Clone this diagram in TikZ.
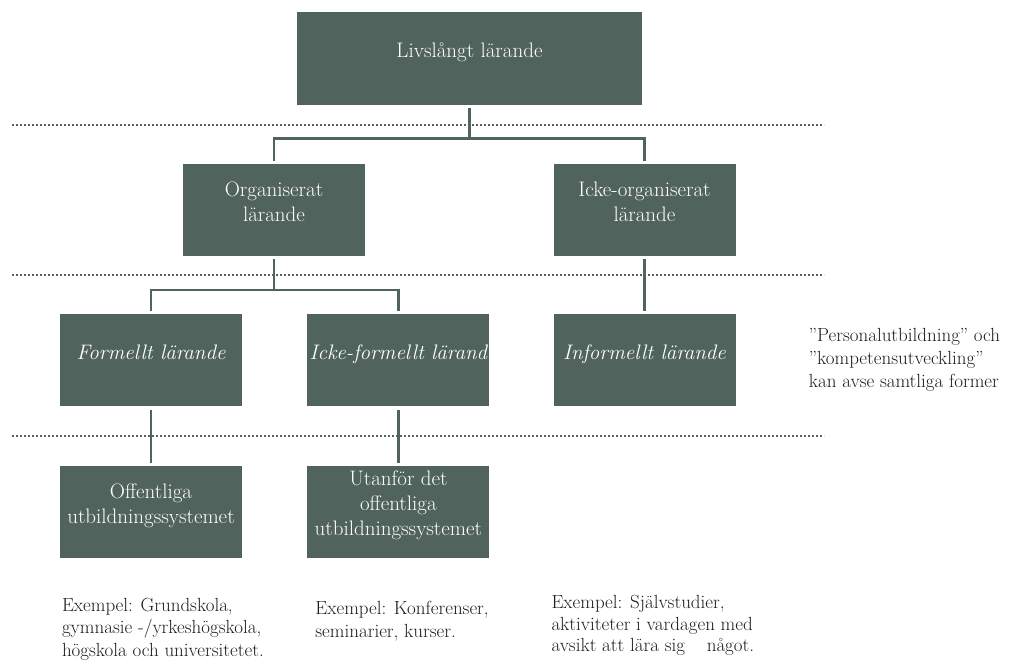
\documentclass[tikz,border=0pt]{standalone}
\usepackage{xcolor}
\usepackage{tikz}
\usetikzlibrary{positioning}

\definecolor{boxgreen}{RGB}{80,99,92}
\definecolor{inkgray}{RGB}{28,28,28}
\newcommand{\lift}{\rule[-17pt]{0pt}{0pt}}   % deeper last line -> text sits a bit high

\begin{document}
\begin{tikzpicture}[
  x=1pt, y=1pt,                              % one unit = one pixel of the sketch
  box/.style   = {rectangle,
                  fill=boxgreen,
                  text=white,
                  align=center,
                  minimum width=182pt,
                  minimum height=92pt,
                  inner sep=0pt,
                  font=\fontsize{21}{25}\selectfont},
  ital/.style  = {font=\fontsize{21}{25}\selectfont\itshape},
  note/.style  = {align=left,
                  inner sep=0pt,
                  text=inkgray,
                  font=\fontsize{19}{23}\selectfont},
  link/.style  = {draw=boxgreen, line width=2.5pt, shorten <=3pt, shorten >=3pt},
  level/.style = {draw=boxgreen, line width=2pt, dash pattern=on 2pt off 2pt}
]
\useasboundingbox (0,0) rectangle (1026,-661);

% separators between the levels
\draw[level] (12,-125) -- (824,-125);
\draw[level] (12,-275) -- (824,-275);
\draw[level] (12,-436) -- (824,-436);

\node[box, minimum width=345pt] (life) at (469.5,-58.5) {Livslångt lärande\lift};

\node[box, below=59pt of life, xshift=-195.5pt] (org)   {Organiserat\\lärande\lift};
\node[box, below=59pt of life, xshift=175pt]    (unorg) {Icke-organiserat\\lärande\lift};

\node[box, ital, below=58pt of org, xshift=-123pt] (formal)    {Formellt lärande\lift};
\node[box, ital, right=65pt of formal]             (nonformal) {Icke-formellt lärand\lift};
\node[box, ital, below=58pt of unorg]              (informal)  {Informellt lärande\lift};

\node[box, below=59pt of formal]    (public)  {Offentliga\\utbildningssystemet\lift};
\node[box, below=59pt of nonformal] (private) {Utanför det\\offentliga\\utbildningssystemet\lift};

\node[note, right=73pt of informal] (forms)
  {”Personalutbildning” och\\”kompetensutveckling”\\kan avse samtliga former};

\node[note, font=\fontsize{19}{22.5}\selectfont,
      below=40pt of public.south west, anchor=north west, xshift=2pt] (exA)
  {Exempel: Grundskola,\\gymnasie -/yrkeshögskola,\\högskola och universitetet.};
\node[note, below=43pt of private.south west, anchor=north west, xshift=8pt] (exB)
  {Exempel: Konferenser,\\seminarier, kurser.};
\node[note, font=\fontsize{19}{21.5}\selectfont,
      below=189pt of informal.south west, anchor=north west, xshift=-2pt] (exC)
  {Exempel: Självstudier,\\aktiviteter i vardagen med\\avsikt att lära sig\hspace{16pt} något.};

\draw[link] (life.south) -- ++(0,-34) -| (org.north);
\draw[link] (life.south) -- ++(0,-34) -| (unorg.north);
\draw[link] (org.south)  -- ++(0,-34) -| (formal.north);
\draw[link] (org.south)  -- ++(0,-34) -| (nonformal.north);
\draw[link] (unorg)     -- (informal);
\draw[link] (formal)    -- (public);
\draw[link] (nonformal) -- (private);

\end{tikzpicture}
\end{document}
